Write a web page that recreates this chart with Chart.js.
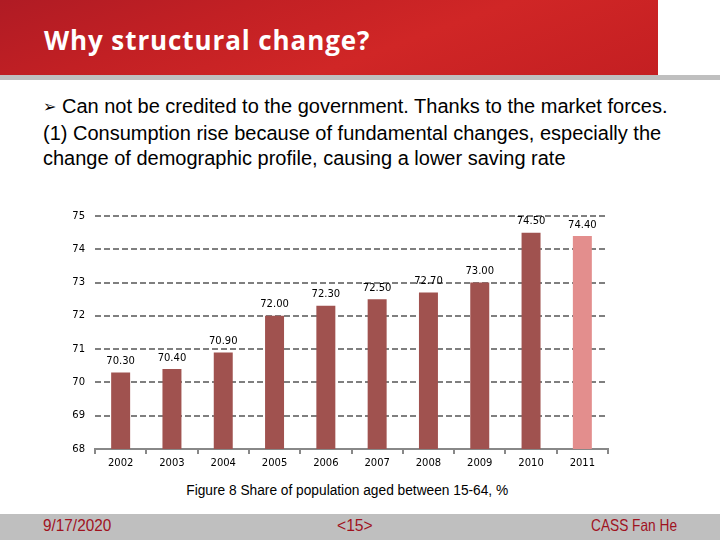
<!DOCTYPE html>
<html>
<head>
<meta charset="utf-8">
<script src="https://cdn.jsdelivr.net/npm/chart.js@4.4.1/dist/chart.umd.min.js"></script>
<style>
  html, body { margin: 0; padding: 0; }
  body { width: 720px; height: 540px; position: relative; overflow: hidden; background: #fff; font-family: "Liberation Sans", Arial, sans-serif; }
  #header { position: absolute; left: 0; top: 0; width: 658px; height: 75px;
    background: linear-gradient(160deg, #b01b24 0%, #c22024 30%, #d02626 60%, #c41f22 100%); }
  #hline { position: absolute; left: 0; top: 75px; width: 720px; height: 5px; background: #bfbfbf; }
  #title { position: absolute; left: 44px; top: 21px; color: #fff; font-family: "Open Sans", sans-serif; font-weight: bold; font-size: 26px; letter-spacing: 0.9px; line-height: 38px; white-space: nowrap; }
  #body { position: absolute; left: 43px; top: 94px; font-size: 20px; line-height: 25.5px; color: #000; white-space: nowrap; }
  #body .b { font-family: "DejaVu Sans", sans-serif; font-size: 16px; position: relative; top: -1px; }
  #caption { position: absolute; left: 0; width: 694px; top: 482px; text-align: center; font-size: 14px; color: #000; }
  #caption span { display: inline-block; transform: scaleX(0.98); }
  #footer { position: absolute; left: 0; top: 514px; width: 720px; height: 26px; background: #bfbfbf; }
  .ft { position: absolute; top: 515px; font-family: "Liberation Sans", sans-serif; font-size: 16.5px; color: #a0121e; line-height: 20px; white-space: nowrap; transform-origin: 0 50%; }
  #c { position: absolute; left: 0; top: 0; }
</style>
</head>
<body>
<div id="header"></div>
<div id="hline"></div>
<div id="title">Why structural change?</div>
<div id="body"><span class="b">➢</span> Can not be credited to the government. Thanks to the market forces.<br>(1) Consumption rise because of fundamental changes, especially the<br>change of demographic profile, causing a lower saving rate</div>
<div id="caption"><span>Figure 8 Share of population aged between 15-64, %</span></div>
<div id="footer"></div>
<div class="ft" style="left:43px; transform: scaleX(0.93)">9/17/2020</div>
<div class="ft" style="left:337px; transform: scaleX(0.95)">&lt;15&gt;</div>
<div class="ft" style="left:591px; transform: scaleX(0.83)">CASS Fan He</div>
<canvas id="c" width="720" height="540"></canvas>
<script>
const years = ["2002","2003","2004","2005","2006","2007","2008","2009","2010","2011"];
const shareValues = [70.3, 70.4, 70.9, 72.0, 72.3, 72.5, 72.7, 73.0, 74.5, 74.4];
const barColors = ["#a0524f","#a0524f","#a0524f","#a0524f","#a0524f","#a0524f","#a0524f","#a0524f","#a0524f","#e38e8d"];
const yMin = 68, yMax = 75;

const labelPlugin = {
  id: 'valueLabels',
  afterDatasetsDraw(chart) {
    const ctx = chart.ctx;
    const meta = chart.getDatasetMeta(0);
    ctx.save();
    ctx.font = '10px "DejaVu Sans", sans-serif';
    ctx.fillStyle = '#000';
    ctx.textAlign = 'center';
    ctx.textBaseline = 'middle';
    meta.data.forEach((bar, i) => {
      ctx.fillText(shareValues[i].toFixed(2), bar.x, bar.y - 11);
    });
    ctx.restore();
  }
};

new Chart(document.getElementById('c'), {
  type: 'bar',
  data: {
    labels: years,
    datasets: [{
      data: shareValues,
      backgroundColor: barColors,
      borderWidth: 0,
      categoryPercentage: 1,
      barPercentage: 0.37
    }]
  },
  options: {
    responsive: false,
    animation: false,
    events: [],
    layout: { padding: { left: 0, right: 112, top: 216, bottom: 61 } },
    plugins: { legend: { display: false }, tooltip: { enabled: false } },
    scales: {
      x: {
        afterFit(s) { s.height = 30; },
        grid: { display: true, drawOnChartArea: false, drawTicks: true, tickLength: 5, color: '#888', lineWidth: 2, offset: true },
        border: { display: true, color: '#888', width: 2 },
        ticks: { color: '#000', font: { family: '"DejaVu Sans", sans-serif', size: 10 }, padding: 3 }
      },
      y: {
        min: yMin, max: yMax,
        afterFit(s) { s.width = 95; },
        grid: { color: '#7f7f7f', lineWidth: 2, drawTicks: false },
        border: { display: false, dash: [6, 3] },
        ticks: { stepSize: 1, color: '#000', font: { family: '"DejaVu Sans", sans-serif', size: 10 }, padding: 10 }
      }
    }
  },
  plugins: [labelPlugin]
});
</script>
</body>
</html>
